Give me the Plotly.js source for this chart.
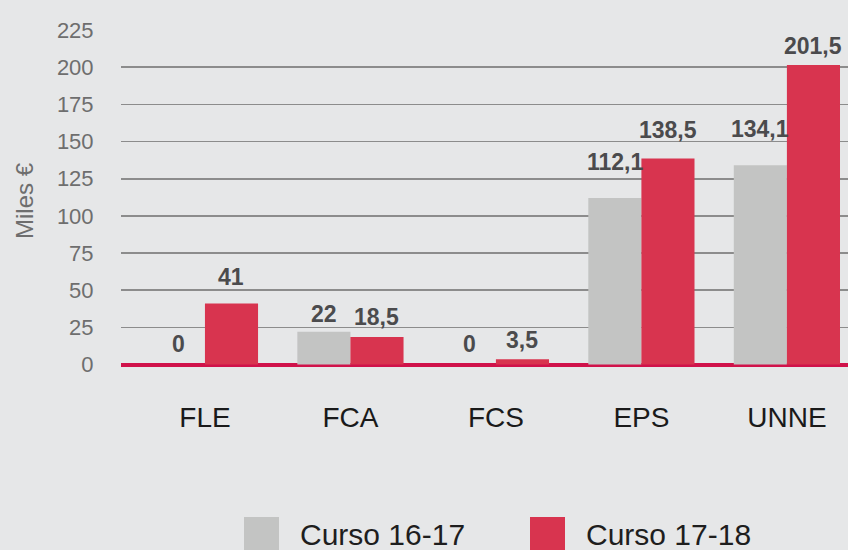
<!DOCTYPE html>
<html>
<head>
<meta charset="utf-8">
<script src="https://cdn.plot.ly/plotly-3.0.1.min.js"></script>
<style>html,body{margin:0;padding:0;background:#e6e7e8;}</style>
</head>
<body>
<div id="chart" style="width:848px;height:550px;"></div>
<script>
const categories = ["FLE", "FCA", "FCS", "EPS", "UNNE"];
const curso1617 = [0, 22, 0, 112.1, 134.1];
const curso1718 = [41, 18.5, 3.5, 138.5, 201.5];
const seriesNames = ["Curso 16-17", "Curso 17-18"];
const yTicks = [0, 25, 50, 75, 100, 125, 150, 175, 200, 225];

// label vertical offsets (px, style only)
const labelShift1617 = [21, 18, 21, 36, 36];
const labelShift1718 = [27, 20, 19, 29, 19];

const grayColor = "#c3c4c3";
const redColor = "#d8344f";
const fmt = v => String(v).replace(".", ",");

const traces = [
  {type: "bar", name: seriesNames[0], x: categories, y: curso1617, marker: {color: grayColor}, hoverinfo: "none"},
  {type: "bar", name: seriesNames[1], x: categories, y: curso1718, marker: {color: redColor}, hoverinfo: "none"}
];

const barHalf = 26.5;
const labelFont = {family: "Liberation Sans, Arial", size: 23, color: "#4b4b4d", weight: "bold"};
const annotations = [];
[curso1617, curso1718].forEach((vals, s) => {
  const shifts = s === 0 ? labelShift1617 : labelShift1718;
  vals.forEach((v, i) => {
    annotations.push({
      x: categories[i], y: v, xref: "x", yref: "y",
      text: "<b>" + fmt(v) + "</b>", showarrow: false,
      xshift: s === 0 ? -barHalf : barHalf, yshift: shifts[i],
      font: labelFont
    });
  });
});

// custom legend
const legendY = 534;
const shapes = [];
const legendItems = [
  {name: seriesNames[0], color: grayColor, x0: 244},
  {name: seriesNames[1], color: redColor, x0: 530}
];
legendItems.forEach(it => {
  shapes.push({type: "rect", xref: "paper", yref: "paper",
    x0: (it.x0 - 121) / 727, x1: (it.x0 + 35 - 121) / 727,
    y0: (372 - 550) / 342, y1: (372 - 517) / 342,
    fillcolor: it.color, line: {width: 0}});
  annotations.push({xref: "paper", yref: "paper",
    x: (it.x0 + 54 - 121) / 727, y: (372 - legendY) / 342,
    xanchor: "left", yanchor: "middle", showarrow: false,
    text: it.name, font: {family: "Liberation Sans, Arial", size: 30, color: "#1e1e1e"}});
});

const layout = {
  width: 848, height: 550,
  margin: {l: 121, r: 0, t: 30, b: 178},
  paper_bgcolor: "#e6e7e8", plot_bgcolor: "#e6e7e8",
  barmode: "group", bargap: 0.27, bargroupgap: 0,
  showlegend: false,
  xaxis: {
    range: [-0.577, 4.42], showgrid: false, zeroline: false, showline: false,
    ticks: "outside", ticklen: 20, tickcolor: "rgba(0,0,0,0)",
    tickfont: {family: "Liberation Sans, Arial", size: 28, color: "#1a1a1a"},
    fixedrange: true
  },
  yaxis: {
    range: [-5, 225], tickvals: yTicks, ticktext: yTicks.map(String),
    showgrid: true, gridcolor: "#8c8c8c", gridwidth: 1.6,
    zeroline: true, zerolinecolor: "#d0124a", zerolinewidth: 4,
    showline: false,
    ticks: "outside", ticklen: 22, tickcolor: "rgba(0,0,0,0)",
    tickfont: {family: "Liberation Sans, Arial", size: 22, color: "#6e6e6e"},
    title: {text: "Miles €", font: {family: "Liberation Sans, Arial", size: 24, color: "#6e6e6e"}, standoff: 16},
    fixedrange: true
  },
  annotations: annotations,
  shapes: shapes
};

Plotly.newPlot("chart", traces, layout, {displayModeBar: false, staticPlot: true});
</script>
</body>
</html>
